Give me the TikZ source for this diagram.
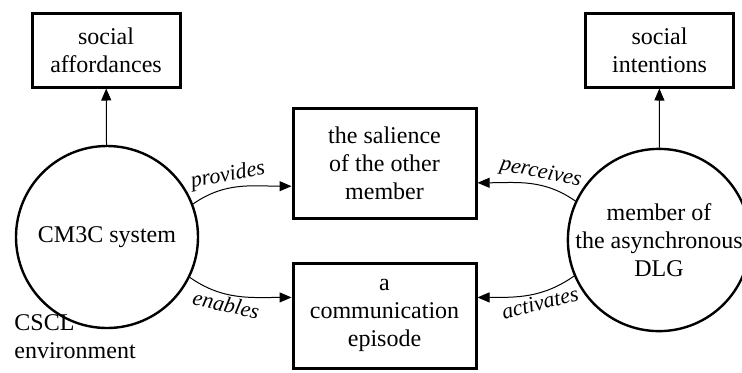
\documentclass[tikz,border=0pt]{standalone}
\usepackage{fontspec}
\setmainfont{Liberation Serif}
\usetikzlibrary{arrows.meta}
\begin{document}
\begin{tikzpicture}[x=0.5pt,y=0.5pt]
            \tikzstyle{concept}=[draw=black,line width=1.5pt,align=center,inner sep=2pt,font=\fontsize{12}{14}\selectfont]
            \tikzstyle{actor}=[circle,draw=black,line width=1.2pt,minimum size=91pt,inner sep=0pt,align=center,font=\fontsize{12}{14}\selectfont]
            \tikzstyle{edge}=[draw,line width=0.5pt,-{Triangle[length=6pt,width=5pt]}]
            \tikzstyle{verb}=[font=\fontsize{11}{13}\selectfont\itshape,sloped,inner sep=1pt,pos=0.4]
            \useasboundingbox (0,0) rectangle (742,372);
            \begin{scope}
               \node [concept,minimum width=74pt,minimum height=37pt] (affordances) at (106,322) {social\\affordances};
               \node [concept,minimum width=74pt,minimum height=37pt] (intentions) at (659.5,322) {social\\intentions};
               \node [concept,minimum width=91.5pt,minimum height=55pt] (salience) at (384.5,209) {the salience\\of the other\\member};
               \node [concept,minimum width=91.5pt,minimum height=52.5pt] (episode) at (384.5,56.5) {a\\communication\\episode};
               \node [actor] (cm3c) at (107,135) {CM3C system};
               \node [actor] (member) at (659,132) {member of\\the asynchronous\\DLG};
               \node [anchor=north west,align=left,inner sep=0pt,font=\fontsize{12}{14}\selectfont] (cscl) at (14,58) {CSCL\\environment};
               \draw[edge] (cm3c) -- (affordances);
               \draw[edge] (member) -- (intentions);
               \draw[edge] (cm3c.21) to [out=35,in=180] node[verb,above] {provides} (salience.194);
               \draw[edge] (cm3c.334) to [out=-35,in=180] node[verb,below] {enables} (episode.169);
               \draw[edge] (member.155) to [out=145,in=0] node[verb,above] {perceives} (salience.348);
               \draw[edge] (member.203) to [out=215,in=0] node[verb,below] {activates} (episode.11);
            \end{scope}
        \end{tikzpicture}
\end{document}
